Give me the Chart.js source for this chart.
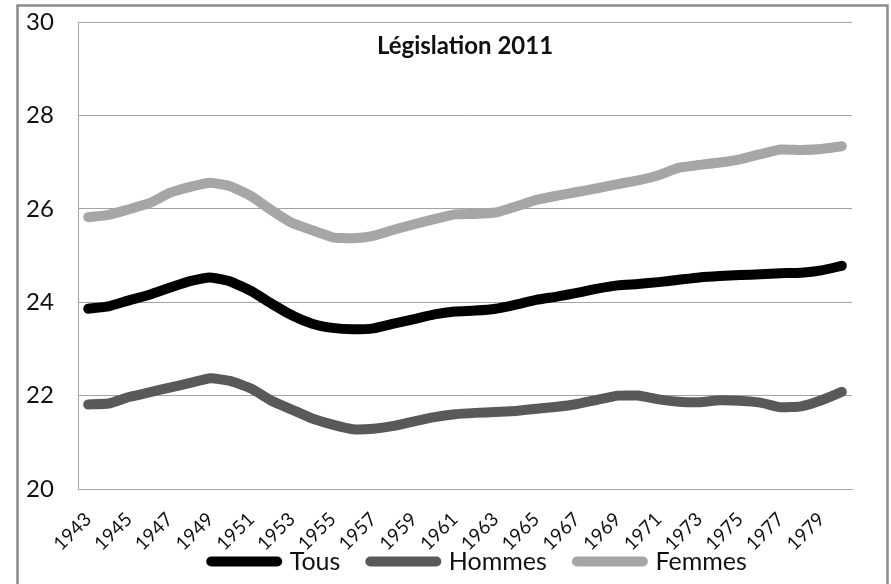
<!DOCTYPE html>
<html>
<head>
<meta charset="utf-8">
<script src="https://cdn.jsdelivr.net/npm/chart.js@4/dist/chart.umd.min.js"></script>
<style>
html,body{margin:0;padding:0;background:#fff;}
#wrap{position:relative;width:891px;height:584px;overflow:hidden;}
canvas{display:block;}
</style>
</head>
<body>
<div id="wrap"><canvas id="c" width="891" height="584"></canvas></div>
<script>
const titleText = "Législation 2011";
const years = ["1943","1944","1945","1946","1947","1948","1949","1950","1951","1952",
  "1953","1954","1955","1956","1957","1958","1959","1960","1961","1962",
  "1963","1964","1965","1966","1967","1968","1969","1970","1971","1972",
  "1973","1974","1975","1976","1977","1978","1979","1980"];
const seriesNames = ["Tous","Hommes","Femmes"];
const tous = [23.86,23.91,24.04,24.16,24.31,24.45,24.53,24.44,24.24,23.97,
  23.72,23.54,23.45,23.42,23.44,23.54,23.64,23.74,23.80,23.82,
  23.86,23.95,24.05,24.12,24.20,24.29,24.36,24.39,24.43,24.48,
  24.53,24.56,24.58,24.60,24.62,24.63,24.68,24.78];
const hommes = [21.81,21.83,21.97,22.07,22.17,22.27,22.37,22.31,22.15,21.89,
  21.70,21.51,21.38,21.28,21.29,21.35,21.45,21.54,21.60,21.63,
  21.65,21.67,21.72,21.76,21.82,21.91,22.00,22.00,21.92,21.87,
  21.86,21.90,21.89,21.85,21.75,21.77,21.90,22.08];
const femmes = [25.82,25.87,25.99,26.12,26.34,26.47,26.56,26.48,26.27,25.97,
  25.70,25.54,25.39,25.37,25.42,25.55,25.67,25.78,25.88,25.89,
  25.92,26.05,26.19,26.28,26.36,26.44,26.53,26.61,26.72,26.88,
  26.94,26.99,27.06,27.17,27.27,27.26,27.28,27.34];
const yTicks = [20,22,24,26,28,30];

const colors = ["#000000","#595959","#a6a6a6"];
const FONT = "Lato";
const TEXT = "#111111";
const GRID = "#a3a3a3";

function ds(label, data, color){
  return {
    label, data,
    borderColor: color, backgroundColor: color,
    borderWidth: 10, borderCapStyle: "round", borderJoinStyle: "round",
    tension: 0.15, fill: false,
    pointRadius: 0, pointHoverRadius: 0,
    pointBorderColor: color, pointBackgroundColor: color, pointBorderWidth: 10
  };
}

const framePlugin = {
  id: "frame",
  beforeDraw(chart){
    const ctx = chart.ctx;
    ctx.save();
    ctx.fillStyle = "#ffffff";
    ctx.fillRect(0,0,chart.width,chart.height);
    ctx.strokeStyle = "#8c8c8c";
    ctx.lineWidth = 2.5;
    ctx.strokeRect(17.5,5.5,870,640);
    ctx.restore();
  },
  afterLayout(chart){
    // let the rotated year labels extend below the (shortened) axis box
    chart.scales.x.bottom = chart.height;
    // nudge the legend row slightly to the right, as in the original
    if (chart.legend) { chart.legend.left += 14; chart.legend.right += 14; }
  }
};

new Chart(document.getElementById("c"), {
  type: "line",
  data: {
    labels: years,
    datasets: [ds(seriesNames[0], tous, colors[0]), ds(seriesNames[1], hommes, colors[1]), ds(seriesNames[2], femmes, colors[2])]
  },
  plugins: [framePlugin],
  options: {
    responsive: false,
    animation: false,
    devicePixelRatio: 1,
    layout: { padding: { top: 22, right: 39, bottom: 0, left: 26 } },
    plugins: {
      tooltip: { enabled: false },
      title: {
        display: true, text: titleText, fullSize: false,
        color: TEXT,
        font: { family: FONT, size: 24, weight: "bold", lineHeight: 1.2 },
        padding: { top: 10, bottom: -38.8 }
      },
      legend: {
        display: true, position: "bottom", fullSize: false,
        labels: {
          usePointStyle: true, pointStyle: "line", pointStyleWidth: 66,
          color: TEXT, padding: 30,
          font: { family: FONT, size: 25 },
          generateLabels(chart){
            const items = Chart.defaults.plugins.legend.labels.generateLabels(chart);
            items.forEach((it,i)=>{ it.lineCap = "round"; it.lineWidth = 10; it.strokeStyle = colors[i]; it.fillStyle = colors[i]; });
            return items;
          }
        }
      }
    },
    scales: {
      x: {
        type: "category", offset: true,
        grid: { display: false, drawTicks: false },
        border: { display: true, color: GRID, width: 1 },
        ticks: {
          autoSkip: false, minRotation: 45, maxRotation: 45, padding: 19,
          color: TEXT, font: { family: FONT, size: 19 },
          callback: (v, i) => (i % 2 === 0 ? years[i] : "")
        },
        afterFit(scale){ scale.height = 30; }
      },
      y: {
        min: 20, max: 30,
        afterBuildTicks(scale){ scale.ticks = yTicks.map(v => ({ value: v })); },
        grid: { color: GRID, lineWidth: 1, drawTicks: false },
        border: { display: true, color: GRID, width: 1 },
        ticks: { color: TEXT, padding: 0, crossAlign: "far", font: { family: FONT, size: 24 } },
        afterFit(scale){ scale.width = 52; }
      }
    }
  }
});
</script>
</body>
</html>
